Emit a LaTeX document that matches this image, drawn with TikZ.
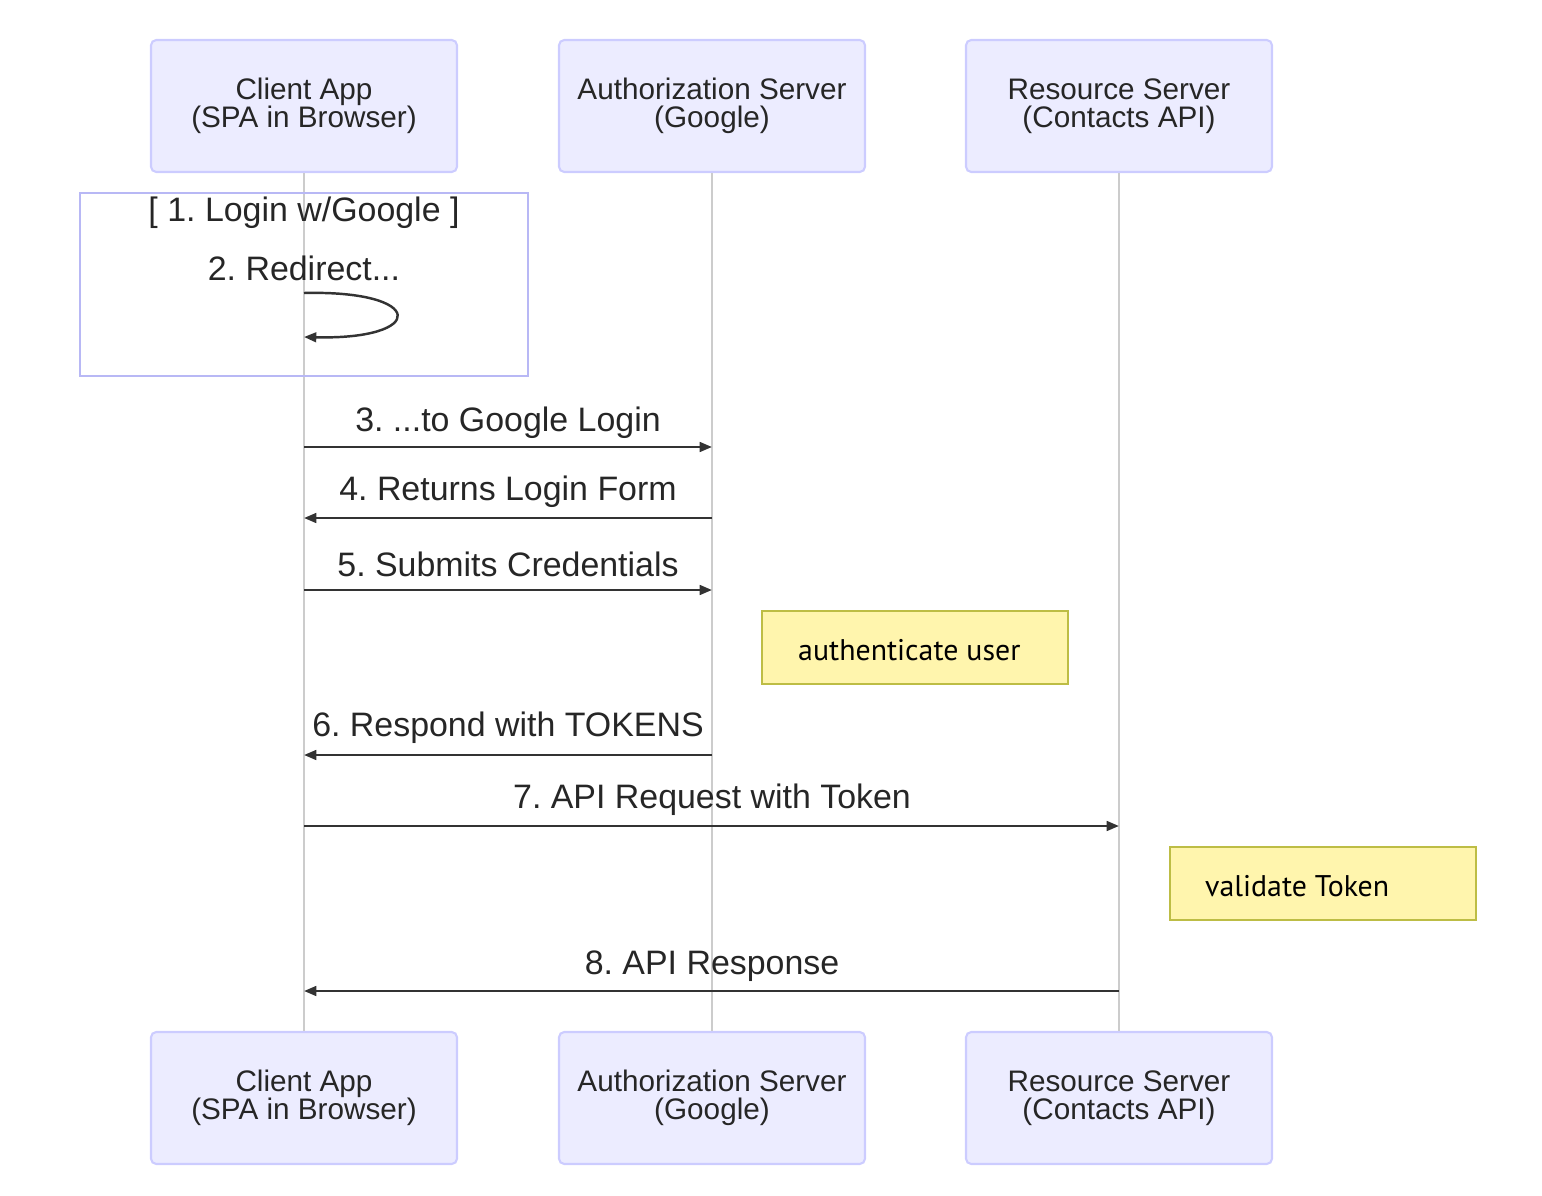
\documentclass[tikz,border=0pt]{standalone}
\usepackage{fontspec}
\setmainfont{Liberation Sans}
\newfontfamily\notefont{PT Sans}
\usetikzlibrary{arrows.meta,positioning}
\definecolor{actorfill}{HTML}{ECECFF}
\definecolor{actorline}{HTML}{CCCCFF}
\definecolor{loopline}{HTML}{B8B8F5}
\definecolor{notefill}{HTML}{FFF5AD}
\definecolor{noteline}{HTML}{BDBD45}
\definecolor{lifeline}{HTML}{CCCCCC}
\definecolor{msgline}{HTML}{333333}
\tikzset{
  actor/.style={draw=actorline, fill=actorfill, line width=1.2pt, rounded corners=3pt,
    minimum width=306*0.02cm, minimum height=132*0.02cm, align=center,
    font=\fontsize{16.9}{16}\selectfont, text=black!85},
  notebox/.style={draw=noteline, fill=notefill, line width=1.2pt,
    minimum width=306*0.02cm, minimum height=73*0.02cm},
  msg/.style={draw=msgline, line width=1.4pt, -{Triangle[length=7pt,width=5.5pt]}},
  msglabel/.style={font=\fontsize{19.3}{19.3}\selectfont, text=black!85},
}
\frenchspacing
\begin{document}
\begin{tikzpicture}[x=0.02cm, y=-0.02cm]
  \useasboundingbox (0,0) rectangle (1542,1196);

  % Actors, top and bottom
  \node[actor] (client)  at (304,106) {Client App\\(SPA in Browser)};
  \node[actor] (auth)    at (712,106) {Authorization Server\\(Google)};
  \node[actor] (res)     at (1119,106) {Resource Server\\(Contacts API)};
  \node[actor] (clientb) at (304,1098) {Client App\\(SPA in Browser)};
  \node[actor] (authb)   at (712,1098) {Authorization Server\\(Google)};
  \node[actor] (resb)    at (1119,1098) {Resource Server\\(Contacts API)};

  % Lifelines
  \draw[lifeline, line width=1pt] (client) -- (clientb);
  \draw[lifeline, line width=1pt] (auth) -- (authb);
  \draw[lifeline, line width=1pt] (res) -- (resb);

  % Loop box
  \draw[loopline, line width=1.6pt] (80,193) rectangle (528,376);
  \node[msglabel] (looptitle) at (304,213) {[ 1. Login w/Google ]};
  \node[msglabel] (redirect) at (304,268) {2. Redirect...};
  \coordinate (r1) at (304,293);
  \coordinate (r2) at (304,337);
  \draw[msg] (r1) .. controls (427,290) and (427,340) .. (r2);

  % Messages
  \coordinate (c3) at (304,447); \coordinate (a3) at (712,447);
  \draw[msg] (c3) -- (a3);
  \node[msglabel] at (508,423) {3. ...to Google Login};

  \coordinate (a4) at (712,518); \coordinate (c4) at (304,518);
  \draw[msg] (a4) -- (c4);
  \node[msglabel] at (508,492) {4. Returns Login Form};

  \coordinate (c5) at (304,590); \coordinate (a5) at (712,590);
  \draw[msg] (c5) -- (a5);
  \node[msglabel] at (508,564) {5. Submits Credentials};

  % Note on auth server
  \node[notebox] (authnote) at (915,647.5) {};
  \node[anchor=west, font=\notefont\fontsize{17}{17}\selectfont] at (792,650) {authenticate user};

  \coordinate (a6) at (712,755); \coordinate (c6) at (304,755);
  \draw[msg] (a6) -- (c6);
  \node[msglabel] at (508,728) {6. Respond with TOKENS};

  \coordinate (c7) at (304,826); \coordinate (r7) at (1119,826);
  \draw[msg] (c7) -- (r7);
  \node[msglabel] at (712,800) {7. API Request with Token};

  % Note on resource server
  \node[notebox] (resnote) at (1323,883.5) {};
  \node[anchor=west, font=\notefont\fontsize{17}{17}\selectfont] at (1199,886) {validate Token};

  \coordinate (r8) at (1119,991); \coordinate (c8) at (304,991);
  \draw[msg] (r8) -- (c8);
  \node[msglabel] at (712,966) {8. API Response};
\end{tikzpicture}
\end{document}
